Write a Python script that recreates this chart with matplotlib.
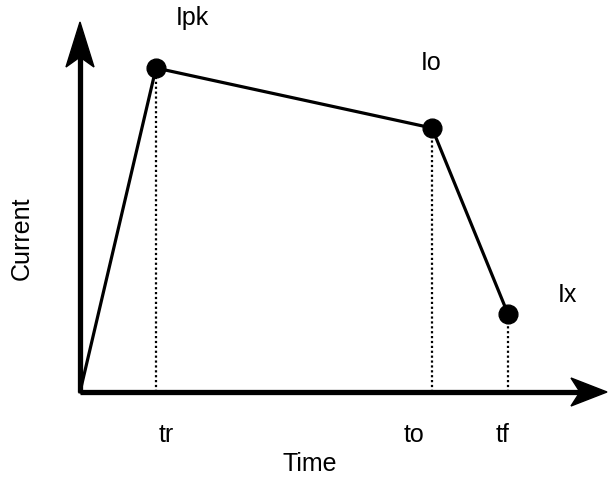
import matplotlib.pyplot as plt
from matplotlib.patches import Polygon

plt.rcParams['font.family'] = ['Liberation Sans', 'DejaVu Sans']

# key points of the current waveform (arbitrary units)
times = [0, 76, 352, 428]
currents = [0, 324, 264, 78]
point_labels = ['Ipk', 'Io', 'Ix']
time_labels = ['tr', 'to', 'tf']

fig = plt.figure(figsize=(6.08, 4.78), dpi=100)
ax = fig.add_axes([0, 0, 1, 1])
ax.set_xlim(-80, 528)
ax.set_ylim(-86, 392)
ax.axis('off')


def notched_head(tip, direction, length, half_width, notch):
    # arrow head with a concave back, like the old drafting style
    tx, ty = tip
    dx, dy = direction
    px, py = -dy, dx
    bx, by = tx - dx * length, ty - dy * length
    pts = [(tx, ty),
           (bx + px * half_width, by + py * half_width),
           (tx - dx * (length - notch), ty - dy * (length - notch)),
           (bx - px * half_width, by - py * half_width)]
    ax.add_patch(Polygon(pts, closed=True, color='black', zorder=4))


# axes with arrows
ax.plot([0, 500], [0, 0], color='black', lw=3.8, solid_capstyle='butt', zorder=3)
ax.plot([0, 0], [0, 340], color='black', lw=3.8, solid_capstyle='butt', zorder=3)
notched_head((527, 0), (1, 0), 36, 14, 9)
notched_head((0, 370), (0, 1), 45, 14, 10)

# waveform
ax.plot(times, currents, color='black', lw=2.3, zorder=2)
ax.plot(times[1:], currents[1:], 'o', color='black', ms=13.5, zorder=5)

# dotted drops
for t, c in zip(times[1:], currents[1:]):
    ax.plot([t, t], [0, c], color='black', lw=1.6, ls=(0, (1, 1.2)), zorder=1)

fs = 18
label_pos = [(112, 374), (351, 329), (487, 97)]
for lab, (x, y) in zip(point_labels, label_pos):
    ax.text(x, y, lab, fontsize=fs, ha='center', va='center')

for lab, t, dx in zip(time_labels, times[1:], [10, -18, -5]):
    ax.text(t + dx, -43, lab, fontsize=fs, ha='center', va='center')

ax.text(230, -72, 'Time', fontsize=fs, ha='center', va='center')
ax.text(-58, 154, 'Current', fontsize=fs, ha='center', va='center', rotation=90)

fig.savefig('out.png', dpi=100)
